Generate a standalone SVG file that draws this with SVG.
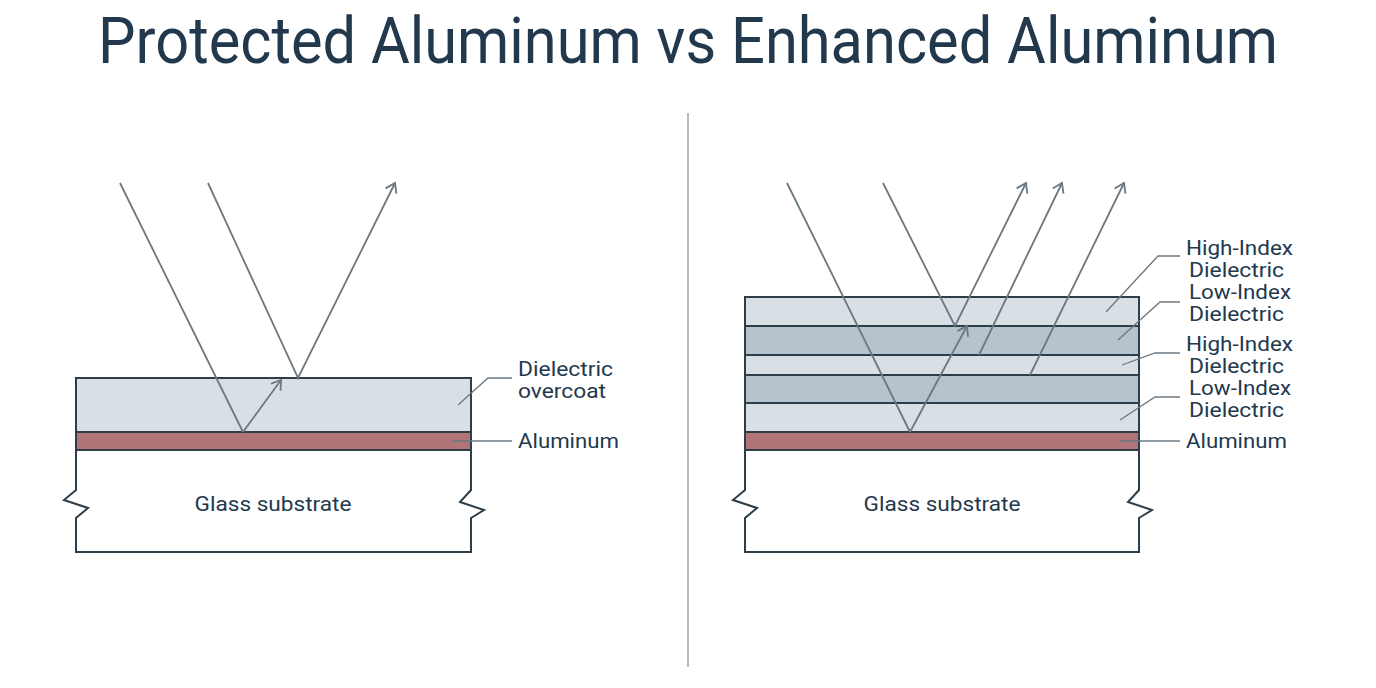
<svg xmlns="http://www.w3.org/2000/svg" width="1376" height="688" viewBox="0 0 1376 688">
<defs>
<marker id="ah" markerWidth="14" markerHeight="14" refX="10" refY="7" orient="auto" markerUnits="userSpaceOnUse"><path d="M1,1 L10,7 L1,13" fill="none" stroke="#6b7880" stroke-width="1.8"/></marker>
<style>
.t{font-family:Roboto,"Liberation Sans",sans-serif;fill:#22394d}
.lab{font-size:20px}
.ray{stroke:#6b7880;stroke-width:1.8;fill:none}
.lead{stroke:#6b7880;stroke-width:1.3;fill:none}
.edge{stroke:#2e3e48;stroke-width:2;fill:none}
</style>
</defs>
<rect width="1376" height="688" fill="#fff"/>
<text class="t" x="688" y="63" font-size="64" text-anchor="middle" textLength="1180" lengthAdjust="spacingAndGlyphs">Protected Aluminum vs Enhanced Aluminum</text>
<line x1="688" y1="113" x2="688" y2="667" stroke="#9aa3a8" stroke-width="1.5"/>
<g id="left">
<rect x="76" y="378" width="395" height="54" fill="#d8dfe5" stroke="#2e3e48" stroke-width="2"/>
<rect x="76" y="432" width="395" height="18" fill="#b07479" stroke="#2e3e48" stroke-width="2"/>
<path class="edge" d="M76,450 V490 L64,500 L88,508 L76,518 V552 H471 V518 L484,510 L460,502 L471,490 V450"/>
<text class="t lab" x="273" y="511" text-anchor="middle" textLength="157" lengthAdjust="spacingAndGlyphs">Glass substrate</text>
<text class="t lab" x="518" y="376" textLength="95" lengthAdjust="spacingAndGlyphs">Dielectric</text>
<text class="t lab" x="518" y="398" textLength="88" lengthAdjust="spacingAndGlyphs">overcoat</text>
<text class="t lab" x="518" y="448" textLength="101" lengthAdjust="spacingAndGlyphs">Aluminum</text>
<path class="lead" d="M458,405 L488,378 H512"/>
<path class="lead" d="M452,441 H512"/>
</g>
<g id="right">
<rect x="745" y="297" width="394" height="29" fill="#d8dfe5" stroke="#2e3e48" stroke-width="2"/>
<rect x="745" y="326" width="394" height="29" fill="#b6c3cd" stroke="#2e3e48" stroke-width="2"/>
<rect x="745" y="355" width="394" height="20" fill="#d8dfe5" stroke="#2e3e48" stroke-width="2"/>
<rect x="745" y="375" width="394" height="28" fill="#b6c3cd" stroke="#2e3e48" stroke-width="2"/>
<rect x="745" y="403" width="394" height="29" fill="#d8dfe5" stroke="#2e3e48" stroke-width="2"/>
<rect x="745" y="432" width="394" height="18" fill="#b07479" stroke="#2e3e48" stroke-width="2"/>
<path class="edge" d="M745,450 V490 L733,500 L757,508 L745,518 V552 H1139 V518 L1152,510 L1128,502 L1139,490 V450"/>
<text class="t lab" x="942" y="511" text-anchor="middle" textLength="157" lengthAdjust="spacingAndGlyphs">Glass substrate</text>
<text class="t lab" x="1186" y="255" textLength="107" lengthAdjust="spacingAndGlyphs">High-Index</text>
<text class="t lab" x="1189" y="277" textLength="95" lengthAdjust="spacingAndGlyphs">Dielectric</text>
<text class="t lab" x="1189" y="299" textLength="102" lengthAdjust="spacingAndGlyphs">Low-Index</text>
<text class="t lab" x="1189" y="321" textLength="95" lengthAdjust="spacingAndGlyphs">Dielectric</text>
<text class="t lab" x="1186" y="351" textLength="107" lengthAdjust="spacingAndGlyphs">High-Index</text>
<text class="t lab" x="1189" y="373" textLength="95" lengthAdjust="spacingAndGlyphs">Dielectric</text>
<text class="t lab" x="1189" y="395" textLength="102" lengthAdjust="spacingAndGlyphs">Low-Index</text>
<text class="t lab" x="1189" y="417" textLength="95" lengthAdjust="spacingAndGlyphs">Dielectric</text>
<text class="t lab" x="1186" y="448" textLength="101" lengthAdjust="spacingAndGlyphs">Aluminum</text>
<path class="lead" d="M1106,312 L1158,256 H1180"/>
<path class="lead" d="M1118,340 L1160,302 H1180"/>
<path class="lead" d="M1122,365 L1155,353 H1180"/>
<path class="lead" d="M1120,420 L1155,397 H1180"/>
<path class="lead" d="M1120,441 H1180"/>
</g>
<g id="connectors">
<path class="ray" d="M120,183 L243,432"/>
<path class="ray" d="M243,432 L281,380" marker-end="url(#ah)"/>
<path class="ray" d="M208,183 L298,378 L395,183" marker-end="url(#ah)"/>
<path class="ray" d="M787,183 L910,432"/>
<path class="ray" d="M910,432 L967,326" marker-end="url(#ah)"/>
<path class="ray" d="M883,183 L955,326 L1026,183" marker-end="url(#ah)"/>
<path class="ray" d="M979,355 L1062,183" marker-end="url(#ah)"/>
<path class="ray" d="M1030,375 L1124,183" marker-end="url(#ah)"/>
</g>
</svg>
